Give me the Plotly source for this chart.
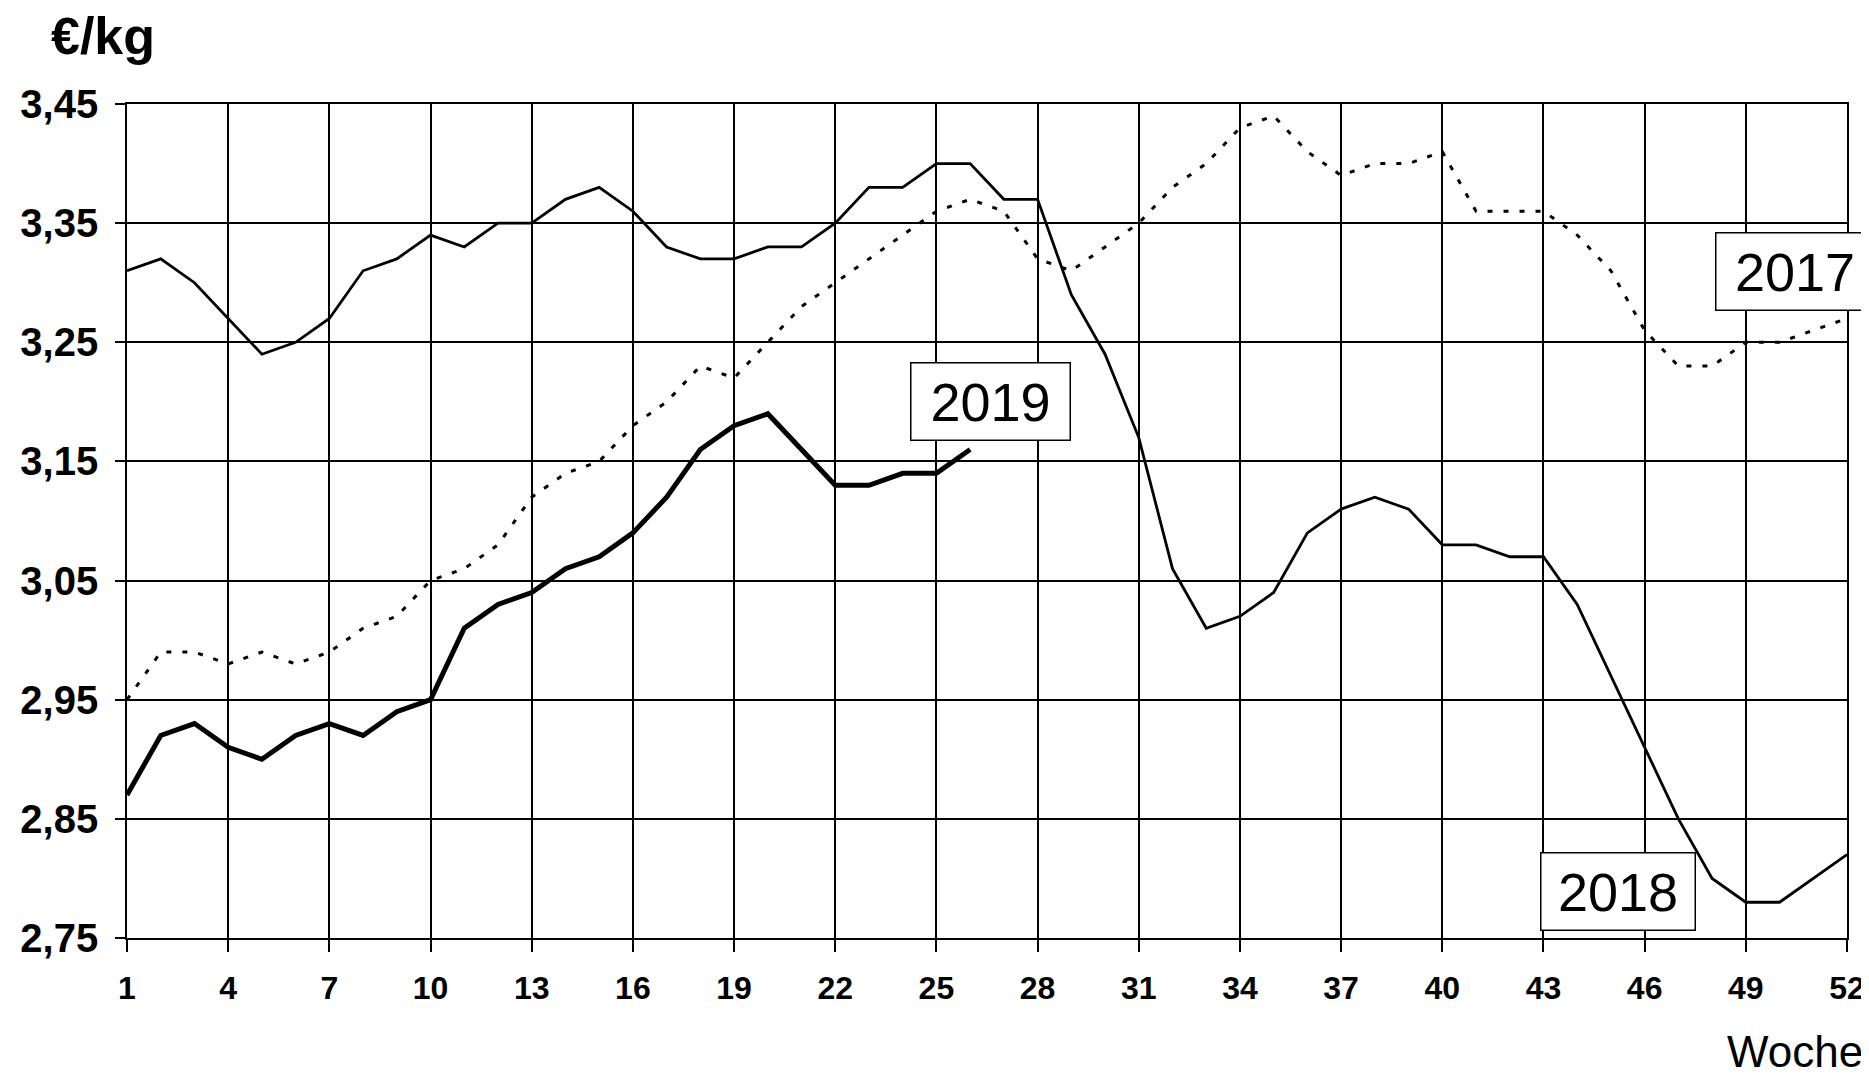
import plotly.graph_objects as go

weeks = list(range(1, 53))
price_2017 = [2.95, 2.99, 2.99, 2.98, 2.99, 2.98, 2.99, 3.01, 3.02, 3.05,
              3.06, 3.08, 3.12, 3.14, 3.15, 3.18, 3.20, 3.23, 3.22, 3.25,
              3.28, 3.30, 3.32, 3.34, 3.36, 3.37, 3.36, 3.32, 3.31, 3.33,
              3.35, 3.38, 3.40, 3.43, 3.44, 3.41, 3.39, 3.40, 3.40, 3.41,
              3.36, 3.36, 3.36, 3.34, 3.31, 3.26, 3.23, 3.23, 3.25, 3.25,
              3.26, 3.27]
price_2018 = [3.31, 3.32, 3.30, 3.27, 3.24, 3.25, 3.27, 3.31, 3.32, 3.34,
              3.33, 3.35, 3.35, 3.37, 3.38, 3.36, 3.33, 3.32, 3.32, 3.33,
              3.33, 3.35, 3.38, 3.38, 3.40, 3.40, 3.37, 3.37, 3.29, 3.24,
              3.17, 3.06, 3.01, 3.02, 3.04, 3.09, 3.11, 3.12, 3.11, 3.08,
              3.08, 3.07, 3.07, 3.03, 2.97, 2.91, 2.85, 2.80, 2.78, 2.78,
              2.80, 2.82]
price_2019 = [2.87, 2.92, 2.93, 2.91, 2.90, 2.92, 2.93, 2.92, 2.94, 2.95,
              3.01, 3.03, 3.04, 3.06, 3.07, 3.09, 3.12, 3.16, 3.18, 3.19,
              3.16, 3.13, 3.13, 3.14, 3.14, 3.16]

x_ticks = list(range(1, 53, 3))
y_ticks = [2.75, 2.85, 2.95, 3.05, 3.15, 3.25, 3.35, 3.45]
y_tick_text = ["2,75", "2,85", "2,95", "3,05", "3,15", "3,25", "3,35", "3,45"]

FONT = "Liberation Sans, Arial, sans-serif"

fig = go.Figure()
fig.add_trace(go.Scatter(x=weeks, y=price_2017, mode="lines", name="2017",
                         line=dict(color="black", width=3, dash="5px,11px")))
fig.add_trace(go.Scatter(x=weeks, y=price_2018, mode="lines", name="2018",
                         line=dict(color="black", width=2.8)))
fig.add_trace(go.Scatter(x=weeks[:len(price_2019)], y=price_2019, mode="lines", name="2019",
                         line=dict(color="black", width=5)))

fig.update_layout(
    width=1869, height=1078,
    margin=dict(l=112, r=27, t=96, b=148),
    paper_bgcolor="white", plot_bgcolor="white",
    showlegend=False,
    font=dict(family=FONT, color="black"),
    xaxis=dict(range=[1, 52], tickvals=x_ticks, ticktext=[str(v) for v in x_ticks],
               showgrid=True, gridcolor="black", gridwidth=1.6,
               zeroline=False, showline=True, linecolor="black", linewidth=1.6, mirror=True,
               ticks="outside", ticklen=12, tickwidth=1.6, tickcolor="black",
               tickfont=dict(family=FONT, size=32, color="black", weight="bold"),
               ticklabelstandoff=9),
    yaxis=dict(range=[2.75, 3.45], tickvals=y_ticks, ticktext=y_tick_text,
               showgrid=True, gridcolor="black", gridwidth=1.6,
               zeroline=False, showline=True, linecolor="black", linewidth=1.6, mirror=True,
               ticks="outside", ticklen=10, tickwidth=1.6, tickcolor="black",
               tickfont=dict(family=FONT, size=40, color="black", weight="bold"),
               ticklabelstandoff=9),
)

box = dict(showarrow=False, xref="x", yref="y", bgcolor="white", bordercolor="black",
           borderwidth=1.5, borderpad=0, height=76, align="center", valign="middle",
           font=dict(family=FONT, size=54, color="black"))
fig.add_annotation(text="2019", x=26.6, y=3.200, width=158, **box)
fig.add_annotation(text="2017", x=50.45, y=3.309, width=157, **box)
fig.add_annotation(text="2018", x=45.2, y=2.789, width=153, **box)

fig.add_annotation(text="€/kg", xref="paper", yref="paper", x=-0.0451, y=1.0815,
                   xanchor="left", yanchor="middle", showarrow=False,
                   font=dict(family=FONT, size=52, color="black", weight="bold"))
fig.add_annotation(text="Woche", xref="paper", yref="paper", x=1.0105, y=-0.136,
                   xanchor="right", yanchor="middle", showarrow=False,
                   font=dict(family=FONT, size=44, color="black"))

fig.write_html("out.html")
